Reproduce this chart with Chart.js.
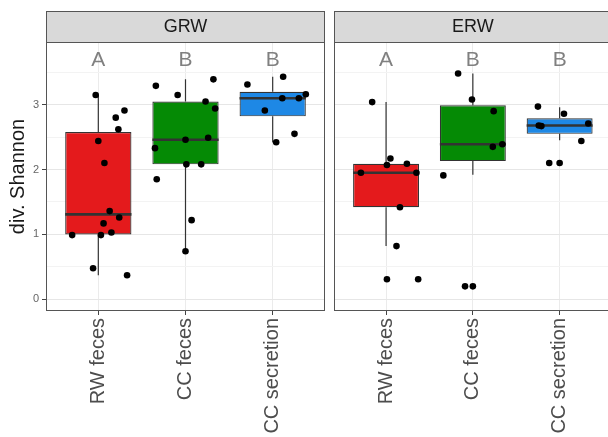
<!DOCTYPE html>
<html>
<head>
<meta charset="utf-8">
<script src="https://cdn.jsdelivr.net/npm/chart.js@4.4.1/dist/chart.umd.min.js"></script>
<style>
  html, body { margin: 0; padding: 0; background: #fff; overflow: hidden; width: 608px; height: 437px; }
  canvas { position: absolute; top: 0; }
  #grw { left: 0; }
  #erw { left: 330px; }
</style>
</head>
<body>
<canvas id="grw" width="330" height="437"></canvas>
<canvas id="erw" width="285" height="437"></canvas>
<script>
// Sample groups (x categories) and significance letters
const groups = ['RW feces', 'CC feces', 'CC secretion'];
const letters = ['A', 'B', 'B'];
const yTicks = [0, 0.5, 1, 1.5, 2, 2.5, 3, 3.5];
const boxColors = ['#E41A1C', '#058A05', '#1E88E5'];

// GRW: box statistics per group
const grwLow    = [0.37, 0.74, 2.42];
const grwQ1     = [1.00, 2.08, 2.82];
const grwMedian = [1.31, 2.46, 3.10];
const grwQ3     = [2.58, 3.05, 3.20];
const grwHigh   = [3.15, 3.39, 3.43];

// GRW: individual Shannon values and their horizontal jitter
const grwRwFeces = [3.15, 2.80, 2.91, 2.62, 2.44, 2.10, 1.36, 1.26, 1.17, 1.03, 0.99, 0.99, 0.48, 0.37];
const grwRwFecesJitter = [-0.03, 0.20, 0.30, 0.23, 0.00, 0.07, 0.13, 0.24, 0.06, 0.15, 0.03, -0.30, -0.06, 0.33];
const grwCcFeces = [3.29, 3.15, 3.39, 3.05, 2.94, 2.46, 2.49, 2.33, 2.08, 2.08, 1.85, 1.22, 0.74];
const grwCcFecesJitter = [-0.34, -0.09, 0.32, 0.23, 0.34, 0.00, 0.26, -0.35, 0.01, 0.18, -0.33, 0.07, 0.00];
const grwCcSecretion = [3.31, 3.43, 3.10, 3.10, 3.16, 2.91, 2.55, 2.42];
const grwCcSecretionJitter = [-0.29, 0.12, 0.11, 0.30, 0.38, -0.09, 0.25, 0.04];

// ERW: box statistics per group
const erwLow    = [0.82, 1.92, 2.45];
const erwQ1     = [1.42, 2.13, 2.55];
const erwMedian = [1.95, 2.39, 2.68];
const erwQ3     = [2.09, 2.99, 2.79];
const erwHigh   = [3.04, 3.48, 2.96];

// ERW: individual Shannon values and their horizontal jitter
const erwRwFeces = [3.04, 2.17, 2.07, 2.09, 1.95, 1.95, 1.42, 0.82, 0.31, 0.31];
const erwRwFecesJitter = [-0.16, 0.05, 0.01, 0.24, -0.29, 0.35, 0.16, 0.12, 0.01, 0.37];
const erwCcFeces = [3.48, 3.08, 2.90, 2.39, 2.35, 1.91, 0.20, 0.20];
const erwCcFecesJitter = [-0.17, -0.01, 0.24, 0.34, 0.23, -0.34, -0.09, 0.00];
const erwCcSecretion = [2.97, 2.86, 2.68, 2.67, 2.71, 2.44, 2.10, 2.10];
const erwCcSecretionJitter = [-0.25, 0.05, -0.24, -0.21, 0.33, 0.25, -0.12, 0.00];

Chart.defaults.font.family = '"Liberation Sans", Arial, Helvetica, sans-serif';
Chart.defaults.animation = false;

function toPoints(seriesList, jitterList) {
  const pts = [];
  seriesList.forEach((vals, gi) => {
    vals.forEach((v, k) => pts.push({ x: gi + 1 + jitterList[gi][k], y: v }));
  });
  return pts;
}

// Whiskers, medians, letters, facet strip and panel frame
const boxplotExtras = {
  id: 'boxplotExtras',
  beforeDatasetsDraw(chart) {
    const st = chart.options.plugins.boxplotExtras;
    const { ctx } = chart;
    const xs = chart.scales.x, ys = chart.scales.y;
    ctx.save();
    ctx.strokeStyle = '#333';
    ctx.lineWidth = 1.2;
    groups.forEach((g, i) => {
      const x = xs.getPixelForValue(i + 1);
      ctx.beginPath();
      ctx.moveTo(x, ys.getPixelForValue(st.low[i]));
      ctx.lineTo(x, ys.getPixelForValue(st.q1[i]));
      ctx.moveTo(x, ys.getPixelForValue(st.q3[i]));
      ctx.lineTo(x, ys.getPixelForValue(st.high[i]));
      ctx.stroke();
    });
    ctx.restore();
  },
  afterDatasetDraw(chart, args) {
    if (args.meta.type !== 'bar') return;
    const st = chart.options.plugins.boxplotExtras;
    const { ctx } = chart;
    const ys = chart.scales.y;
    ctx.save();
    ctx.strokeStyle = '#333';
    ctx.lineWidth = 2.6;
    args.meta.data.forEach((el, i) => {
      const y = ys.getPixelForValue(st.median[i]);
      ctx.beginPath();
      ctx.moveTo(el.x - el.width / 2, y);
      ctx.lineTo(el.x + el.width / 2, y);
      ctx.stroke();
    });
    ctx.restore();
  },
  afterDraw(chart) {
    const st = chart.options.plugins.boxplotExtras;
    const { ctx, chartArea: a } = chart;
    const xs = chart.scales.x, ys = chart.scales.y;
    ctx.save();
    // letters
    ctx.fillStyle = '#808080';
    ctx.font = '21px "Liberation Sans", Arial, sans-serif';
    ctx.textAlign = 'center';
    ctx.textBaseline = 'middle';
    letters.forEach((l, i) => ctx.fillText(l, xs.getPixelForValue(i + 1), ys.getPixelForValue(3.68)));
    // panel frame
    ctx.strokeStyle = '#555';
    ctx.lineWidth = 1;
    ctx.strokeRect(a.left + 0.5, a.top + 0.5, a.right - a.left - 1, a.bottom - a.top - 1);
    // facet strip
    const top = 11;
    ctx.fillStyle = '#d9d9d9';
    ctx.fillRect(a.left, top, a.right - a.left, a.top - top);
    ctx.strokeRect(a.left + 0.5, top + 0.5, a.right - a.left - 1, a.top - top);
    ctx.fillStyle = '#1a1a1a';
    ctx.font = '18px "Liberation Sans", Arial, sans-serif';
    ctx.fillText(st.title, (a.left + a.right) / 2, (top + a.top) / 2 + 1);
    ctx.restore();
  }
};

function makePanel(id, title, stats, points, showY) {
  const gridColor = c => (c.tick && Number.isInteger(c.tick.value)) ? '#e6e6e6' : '#f3f3f3';
  new Chart(document.getElementById(id), {
    type: 'bar',
    data: {
      datasets: [
        {
          type: 'scatter',
          order: 0,
          data: points,
          backgroundColor: '#000',
          borderWidth: 0,
          pointRadius: 3.3,
          pointHoverRadius: 3.3
        },
        {
          type: 'bar',
          order: 1,
          data: groups.map((g, i) => ({ x: i + 1, y: [stats.q1[i], stats.q3[i]] })),
          backgroundColor: boxColors,
          borderColor: '#333',
          borderWidth: 1.2,
          borderSkipped: false,
          barPercentage: 0.76,
          categoryPercentage: 1
        }
      ]
    },
    options: {
      responsive: false,
      devicePixelRatio: 1,
      layout: { padding: { top: 42, right: showY ? 5 : 2, left: 0, bottom: 0 } },
      plugins: {
        legend: { display: false },
        tooltip: { enabled: false },
        boxplotExtras: Object.assign({ title }, stats)
      },
      scales: {
        x: {
          type: 'linear',
          min: 0.4,
          max: 3.6,
          offset: false,
          afterBuildTicks: s => { s.ticks = groups.map((g, i) => ({ value: i + 1 })); },
          afterFit: s => { s.height = 126; },
          border: { display: false },
          grid: { offset: false, color: '#ebebeb', tickLength: 4, tickColor: '#444' },
          ticks: {
            autoSkip: false,
            minRotation: 90,
            maxRotation: 90,
            padding: 3,
            color: '#4d4d4d',
            font: { size: 20 },
            callback: v => groups[Math.round(v) - 1]
          }
        },
        y: {
          min: -0.18,
          max: 3.966,
          afterBuildTicks: s => { s.ticks = yTicks.map(v => ({ value: v })); },
          afterFit: s => { s.width = showY ? 46 : 4; },
          border: { display: false },
          grid: {
            color: gridColor,
            drawTicks: showY,
            tickLength: 4,
            tickColor: c => (c.tick && Number.isInteger(c.tick.value)) ? '#444' : 'rgba(0,0,0,0)'
          },
          ticks: {
            display: showY,
            padding: 3,
            color: '#666',
            font: { size: 11 },
            callback: v => Number.isInteger(v) ? String(v) : ''
          },
          title: {
            display: showY,
            text: 'div. Shannon',
            color: '#1a1a1a',
            font: { size: 20 },
            padding: { top: 6, bottom: 0 }
          }
        }
      }
    },
    plugins: [boxplotExtras]
  });
}

makePanel('grw', 'GRW',
  { low: grwLow, q1: grwQ1, median: grwMedian, q3: grwQ3, high: grwHigh },
  toPoints([grwRwFeces, grwCcFeces, grwCcSecretion],
           [grwRwFecesJitter, grwCcFecesJitter, grwCcSecretionJitter]),
  true);

makePanel('erw', 'ERW',
  { low: erwLow, q1: erwQ1, median: erwMedian, q3: erwQ3, high: erwHigh },
  toPoints([erwRwFeces, erwCcFeces, erwCcSecretion],
           [erwRwFecesJitter, erwCcFecesJitter, erwCcSecretionJitter]),
  false);
</script>
</body>
</html>
